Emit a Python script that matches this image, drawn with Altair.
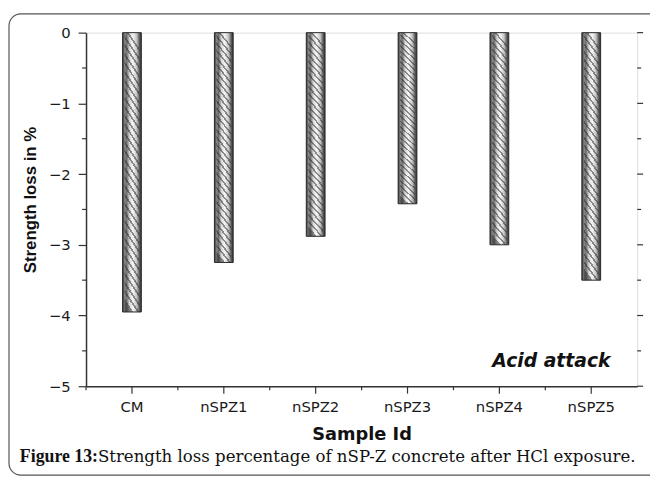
import altair as alt
import pandas as pd

samples = ["CM", "nSPZ1", "nSPZ2", "nSPZ3", "nSPZ4", "nSPZ5"]
loss = [-3.95, -3.25, -2.88, -2.42, -3.0, -3.5]
major_ticks = [0, -1, -2, -3, -4, -5]
minor_ticks = [-0.5, -1.5, -2.5, -3.5, -4.5]
annotation = ["Acid attack"]
caption_bold = ["Figure 13:"]
caption_text = ["Strength loss percentage of nSP-Z concrete after HCl exposure."]

W, H = 558, 358
df = pd.DataFrame({"sample": samples, "loss": loss})
df_major = pd.DataFrame({"v": major_ticks})
df_minor = pd.DataFrame({"v": minor_ticks})
one = pd.DataFrame({"k": [0]})

shade = alt.LinearGradient(
    gradient="linear", x1=0, x2=1, y1=0, y2=0,
    stops=[alt.GradientStop(color="#2e2e2e", offset=0),
           alt.GradientStop(color="#8a8a8a", offset=0.12),
           alt.GradientStop(color="#6a6a6a", offset=0.22),
           alt.GradientStop(color="#d8d8d8", offset=0.38),
           alt.GradientStop(color="#f6f6f6", offset=0.55),
           alt.GradientStop(color="#c4c4c4", offset=0.75),
           alt.GradientStop(color="#5a5a5a", offset=0.9),
           alt.GradientStop(color="#2e2e2e", offset=1)])

# diagonal hatch pattern built as a striped gradient
N_STRIPES = 32
stripe_stops = []
for i in range(N_STRIPES):
    o = i / N_STRIPES
    step = 1 / N_STRIPES
    stripe_stops += [
        alt.GradientStop(color="rgba(0,0,0,0)", offset=o),
        alt.GradientStop(color="rgba(0,0,0,0)", offset=o + 0.66 * step),
        alt.GradientStop(color="rgba(40,40,40,0.5)", offset=o + 0.66 * step),
        alt.GradientStop(color="rgba(40,40,40,0.5)", offset=min(1, o + step)),
    ]
hatch = alt.LinearGradient(gradient="linear", x1=0.54, x2=0.46, y1=0, y2=1,
                           stops=stripe_stops)

yscale = alt.Scale(domain=[-5, 0], nice=False)
xscale = alt.Scale(domain=samples, paddingInner=0, paddingOuter=0)

x_enc = alt.X("sample:N", scale=xscale, sort=samples,
              axis=alt.Axis(title="Sample Id", labelAngle=0, labelFont="DejaVu Sans",
                            labelFontSize=15, labelColor="#1a1a1a", titleFont="DejaVu Sans",
                            titleFontSize=18, titleFontWeight="bold", titleColor="#111111",
                            tickSize=7, tickColor="#333333", domainColor="#333333",
                            domainWidth=1.5, tickWidth=1.2, labelPadding=7, titlePadding=11))
y_enc = alt.Y("loss:Q", scale=yscale,
              axis=alt.Axis(title="Strength loss in %", values=major_ticks, format="d",
                            labelFont="DejaVu Sans", labelFontSize=15, labelColor="#1a1a1a",
                            titleFont="Liberation Sans", titleFontSize=17, titleFontWeight="bold",
                            titleColor="#111111", tickSize=8, tickColor="#333333",
                            domainColor="#333333", domainWidth=1.5, tickWidth=1.2,
                            labelPadding=8, titleX=-56, titleY=169, titleBaseline="middle",
                            titleAlign="center", grid=False))

bars = alt.Chart(df).mark_bar(size=19, fill=shade, stroke="#2a2a2a", strokeWidth=1).encode(
    x=x_enc, y=y_enc, y2=alt.datum(0))
bars_hatch = alt.Chart(df).mark_bar(size=15, fill=hatch, strokeWidth=0).encode(
    x=alt.X("sample:N", scale=xscale, sort=samples), y=alt.Y("loss:Q", scale=yscale),
    y2=alt.datum(0))

minor_left = alt.Chart(df_minor).mark_rule(color="#333333", strokeWidth=1.2).encode(
    y=alt.Y("v:Q", scale=yscale), x=alt.value(-4), x2=alt.value(0))
major_right = alt.Chart(df_major).mark_rule(color="#333333", strokeWidth=1.2).encode(
    y=alt.Y("v:Q", scale=yscale), x=alt.value(W), x2=alt.value(W + 6))
minor_right = alt.Chart(df_minor).mark_rule(color="#333333", strokeWidth=1.2).encode(
    y=alt.Y("v:Q", scale=yscale), x=alt.value(W), x2=alt.value(W + 4))
minor_bottom = alt.Chart(df).mark_rule(color="#333333", strokeWidth=1.2).encode(
    x=alt.X("sample:N", scale=xscale, sort=samples, bandPosition=0),
    y=alt.value(H), y2=alt.value(H + 4))

acid = alt.Chart(one).mark_text(text=annotation[0], font="DejaVu Sans", fontSize=19,
                                fontStyle="italic", fontWeight="bold", align="right",
                                baseline="middle", color="#111111").encode(
    x=alt.value(531), y=alt.value(333))

cap1 = alt.Chart(one).mark_text(text=caption_bold[0], font="Liberation Serif", fontSize=18,
                                fontWeight="bold", align="left", baseline="middle",
                                color="#111111").encode(x=alt.value(-67), y=alt.value(430))
cap2 = alt.Chart(one).mark_text(text=caption_text[0], font="DejaVu Serif", fontSize=16.8,
                                align="left", baseline="middle", color="#111111").encode(
    x=alt.value(12), y=alt.value(430))

frame = alt.Chart(one).mark_rect(fill=None, stroke="#555555", strokeWidth=1.2,
                                 cornerRadius=12).encode(
    x=alt.value(-78), x2=alt.value(W + 40), y=alt.value(-19), y2=alt.value(448))

chart = alt.layer(frame, bars, bars_hatch, minor_left, major_right, minor_right, minor_bottom,
                  acid, cap1, cap2).properties(
    width=W, height=H,
    autosize=alt.AutoSizeParams(type="none"),
    padding={"left": 79, "top": 22, "right": 13, "bottom": 94},
).configure_view(stroke="#333333", strokeWidth=1.5).configure(background="white")

chart.save("out.html", embed_options={"renderer": "svg", "actions": False})
